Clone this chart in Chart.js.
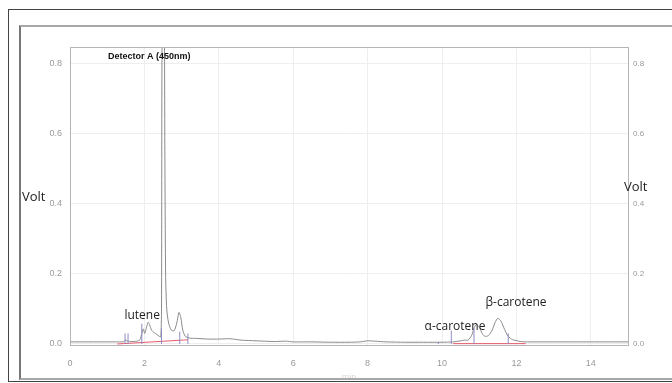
<!DOCTYPE html>
<html>
<head>
<meta charset="utf-8">
<script src="https://cdn.jsdelivr.net/npm/chart.js@4/dist/chart.umd.min.js"></script>
<style>
  html, body { margin: 0; padding: 0; background: #fff; }
  #wrap { position: relative; width: 672px; height: 383px; overflow: hidden; }
  #c { position: absolute; left: 0; top: 0; }
  .frame-outer { position: absolute; left: 8px; top: 9px; width: 720px; height: 371px; border: 1.5px solid #444; pointer-events: none; }
  .frame-inner { position: absolute; left: 19px; top: 25px; width: 720px; height: 351px; border: 2px solid #a8a8a8; border-left-color: #777; pointer-events: none; }
</style>
</head>
<body>
<div id="wrap">
  <canvas id="c" width="672" height="383"></canvas>
  <div class="frame-outer"></div>
  <div class="frame-inner"></div>
</div>
<script>
// Retention time (min) and detector signal (V) of the 450 nm trace
const timeMin = [0, 0.5, 1.0, 1.25, 1.4, 1.47, 1.5, 1.53, 1.56, 1.6, 1.8, 1.88, 1.93, 1.97, 2.01, 2.05, 2.1, 2.14, 2.2, 2.3, 2.4, 2.44, 2.46, 2.48, 2.53, 2.55, 2.57, 2.6, 2.65, 2.72, 2.8, 2.87, 2.93, 2.98, 3.03, 3.1, 3.2, 3.4, 3.7, 4.0, 4.3, 4.6, 5.0, 5.5, 5.8, 6.0, 6.5, 7.0, 7.5, 7.8, 8.0, 8.2, 8.5, 9.0, 9.5, 10.0, 10.3, 10.5, 10.6, 10.7, 10.8, 10.86, 10.92, 11.0, 11.08, 11.15, 11.25, 11.35, 11.43, 11.5, 11.58, 11.68, 11.78, 11.9, 12.0, 12.1, 12.3, 12.6, 13.0, 14.0, 15.0];
const signalV = [0.006, 0.006, 0.006, 0.006, 0.006, 0.008, 0.012, 0.008, 0.009, 0.007, 0.008, 0.012, 0.03, 0.043, 0.03, 0.045, 0.062, 0.055, 0.038, 0.03, 0.022, 0.02, 0.1, 0.95, 0.95, 0.55, 0.2, 0.1, 0.06, 0.04, 0.038, 0.06, 0.09, 0.075, 0.04, 0.022, 0.017, 0.016, 0.014, 0.014, 0.015, 0.011, 0.009, 0.007, 0.008, 0.006, 0.006, 0.005, 0.005, 0.006, 0.009, 0.008, 0.006, 0.005, 0.005, 0.005, 0.006, 0.009, 0.011, 0.011, 0.025, 0.045, 0.055, 0.048, 0.03, 0.022, 0.024, 0.04, 0.062, 0.073, 0.066, 0.042, 0.022, 0.012, 0.01, 0.007, 0.006, 0.006, 0.006, 0.006, 0.006];

// Peak start/end markers from the integration
const markerTime = [1.48, 1.56, 1.93, 2.46, 2.95, 3.17, 9.9, 10.25, 10.86, 11.78];
const markerTop = [0.03, 0.03, 0.058, 0.045, 0.035, 0.03, 0.006, 0.038, 0.045, 0.03];

// Integration baselines: [start time, start V, end time, end V]
const baseLines = [[1.27, 0.0, 3.17, 0.012], [10.3, 0.001, 12.25, 0.001]];

// Axis ticks
const xTicks = [0, 2, 4, 6, 8, 10, 12, 14];
const yTicks = [0.0, 0.2, 0.4, 0.6, 0.8];

// Peak names: [text, time, V]
const peakNames = [["lutene", 1.94, 0.080], ["α-carotene", 10.35, 0.0485], ["β-carotene", 11.99, 0.117]];

const trace = timeMin.map((t, i) => ({ x: t, y: signalV[i] }));
const markers = [];
markerTime.forEach((t, i) => { markers.push({ x: t, y: 0 }, { x: t, y: markerTop[i] }, { x: t, y: null }); });
const bases = [];
baseLines.forEach(b => { bases.push({ x: b[0], y: b[1] }, { x: b[2], y: b[3] }, { x: b[2], y: null }); });

const tickFont = { family: 'Liberation Sans, Arial, sans-serif', size: 9 };

const annotations = {
  id: 'annotations',
  afterDatasetsDraw(chart) {
    const { ctx, chartArea: a, scales: { x, y } } = chart;
    ctx.save();
    ctx.strokeStyle = '#b5b5b5';
    ctx.lineWidth = 1;
    ctx.strokeRect(a.left + 0.5, a.top + 0.5, a.right - a.left, a.bottom - a.top);

    ctx.fillStyle = '#111';
    ctx.font = 'bold 9px "Liberation Sans", Arial, sans-serif';
    ctx.textBaseline = 'middle';
    ctx.textAlign = 'left';
    ctx.fillText('Detector A (450nm)', x.getPixelForValue(1.02), y.getPixelForValue(0.819));

    ctx.fillStyle = '#222';
    ctx.font = '12px "Open Sans", sans-serif';
    ctx.textAlign = 'center';
    peakNames.forEach(([txt, t, v]) => ctx.fillText(txt, x.getPixelForValue(t), y.getPixelForValue(v)));

    ctx.textAlign = 'left';
    ctx.font = '13px "Open Sans", sans-serif';
    ctx.fillText('Volt', 22, 197);
    ctx.fillText('Volt', 624, 187);

    ctx.fillStyle = '#d8d8d8';
    ctx.font = '9px "Liberation Sans", Arial, sans-serif';
    ctx.textAlign = 'center';
    ctx.fillText('min', 349, 378);
    ctx.restore();
  }
};

new Chart(document.getElementById('c'), {
  type: 'scatter',
  data: {
    datasets: [
      { data: trace, showLine: true, borderColor: '#8a8a8a', borderWidth: 1, pointRadius: 0, tension: 0.25, order: 2 },
      { data: bases, showLine: true, borderColor: '#e8596b', borderWidth: 1, pointRadius: 0, spanGaps: false, order: 1 },
      { data: markers, showLine: true, borderColor: '#8c8cc0', borderWidth: 1, pointRadius: 0, spanGaps: false, order: 0 }
    ]
  },
  options: {
    responsive: false,
    animation: false,
    devicePixelRatio: 1,
    layout: { padding: { top: 47, left: 0, right: 0, bottom: 0 } },
    plugins: { legend: { display: false }, tooltip: { enabled: false } },
    scales: {
      x: {
        type: 'linear', position: 'bottom', min: 0, max: 15,
        afterBuildTicks: s => { s.ticks = xTicks.map(v => ({ value: v })); },
        afterFit: s => { s.height = 38; },
        grid: { color: '#eeeeee', drawTicks: false },
        border: { color: '#b5b5b5' },
        ticks: { font: tickFont, color: '#999', padding: 13, maxRotation: 0, callback: v => String(v) }
      },
      y: {
        type: 'linear', position: 'left', min: -0.0029, max: 0.847,
        afterBuildTicks: s => { s.ticks = yTicks.map(v => ({ value: v })); },
        afterFit: s => { s.width = 70; },
        grid: { color: '#eeeeee', drawTicks: false },
        border: { color: '#b5b5b5' },
        ticks: { font: tickFont, color: '#999', padding: 8, callback: v => Number(v).toFixed(1) }
      },
      y2: {
        type: 'linear', position: 'right', min: -0.0029, max: 0.847,
        afterBuildTicks: s => { s.ticks = yTicks.map(v => ({ value: v })); },
        afterFit: s => { s.width = 44; },
        grid: { display: false, drawTicks: false },
        border: { color: '#b5b5b5' },
        ticks: { font: { family: tickFont.family, size: 8 }, color: '#999', padding: 5, callback: v => Number(v).toFixed(1) }
      }
    }
  },
  plugins: [annotations]
});
</script>
</body>
</html>
